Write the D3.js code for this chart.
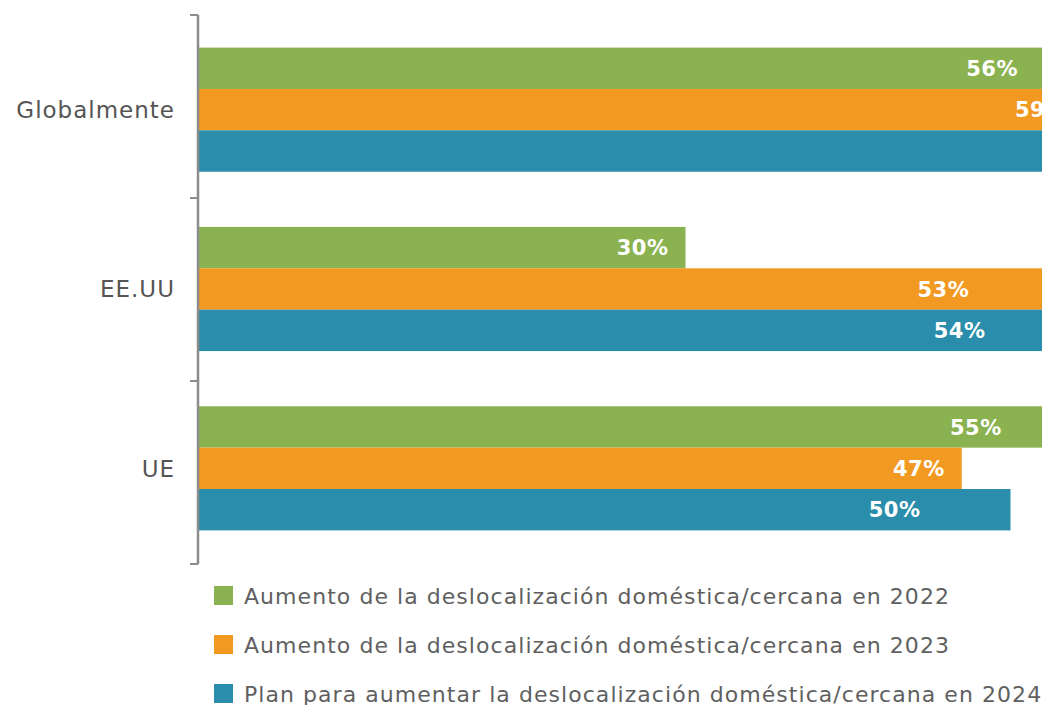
<!DOCTYPE html>
<html>
<head>
<meta charset="utf-8">
<script src="https://cdn.jsdelivr.net/npm/d3@7"></script>
<style>
  body { margin: 0; background: #fff; }
  svg { display: block; font-family: "DejaVu Sans", sans-serif; }
</style>
</head>
<body>
<div id="chart"></div>
<script>
// Data
const regions = ["Globalmente", "EE.UU", "UE"];
const seriesNames = [
  "Aumento de la deslocalización doméstica/cercana en 2022",
  "Aumento de la deslocalización doméstica/cercana en 2023",
  "Plan para aumentar la deslocalización doméstica/cercana en 2024"
];
const values2022 = [56, 30, 55];
const values2023 = [59, 53, 47];
const values2024 = [62, 54, 50];
const seriesColors = ["#8ab250", "#f29921", "#298dab"];

(function() {
  const width = 1042, height = 705;
  const axisX = 198;

  const svg = d3.select("#chart")
    .append("svg")
    .attr("width", width)
    .attr("height", height);

  const seriesValues = [values2022, values2023, values2024];
  const rows = regions.map((r, i) => ({
    region: r,
    bars: seriesNames.map((s, j) => ({ series: s, value: seriesValues[j][i], color: seriesColors[j] }))
  }));

  const x = d3.scaleLinear().domain([0, 100]).range([axisX, axisX + 1625]);
  // axis bands (ticks) and bar bands sit slightly differently in the original
  const yAxis = d3.scaleBand().domain(regions).range([15, 564]);
  const y0 = d3.scaleBand().domain(regions).range([20, 558]);
  const y1 = d3.scaleBand().domain(seriesNames).range([0, y0.bandwidth()]).paddingOuter(0.667);

  // bars
  const groups = svg.selectAll(".group")
    .data(rows)
    .enter().append("g")
    .attr("transform", d => `translate(0, ${y0(d.region)})`);

  groups.selectAll("rect")
    .data(d => d.bars)
    .enter().append("rect")
    .attr("x", x(0))
    .attr("y", d => y1(d.series))
    .attr("width", d => x(d.value) - x(0))
    .attr("height", y1.bandwidth())
    .attr("fill", d => d.color);

  // value labels: short bars get the label near the end, long ones are pulled in
  groups.selectAll(".val")
    .data(d => d.bars)
    .enter().append("text")
    .attr("x", d => x(d.value) - (d.value < 48 ? 17 : 90))
    .attr("y", d => y1(d.series) + y1.bandwidth() / 2)
    .attr("dy", "0.36em")
    .attr("text-anchor", "end")
    .attr("fill", "#fff")
    .attr("font-weight", "bold")
    .attr("font-size", 21)
    .attr("letter-spacing", 0.5)
    .text(d => d.value + "%");

  // axis line with ticks at the band edges
  const axis = svg.append("g")
    .attr("transform", `translate(${axisX}, 0)`);
  axis.append("line")
    .attr("x1", 0).attr("x2", 0)
    .attr("y1", yAxis.range()[0]).attr("y2", yAxis.range()[1])
    .attr("stroke", "#8c8c8c").attr("stroke-width", 2.5);
  const edges = regions.map(r => yAxis(r)).concat([yAxis.range()[1]]);
  axis.selectAll(".edge")
    .data(edges)
    .enter().append("line")
    .attr("x1", -8).attr("x2", 0)
    .attr("y1", d => d).attr("y2", d => d)
    .attr("stroke", "#8c8c8c").attr("stroke-width", 2);

  // category labels centred on the bar group
  svg.selectAll(".cat")
    .data(regions)
    .enter().append("text")
    .attr("x", axisX - 23)
    .attr("y", d => y0(d) + y1(seriesNames[1]) + y1.bandwidth() / 2)
    .attr("dy", "0.36em")
    .attr("text-anchor", "end")
    .attr("fill", "#555")
    .attr("font-size", 23)
    .attr("letter-spacing", 1)
    .text(d => d);

  // legend
  const legend = svg.selectAll(".legend")
    .data(seriesNames)
    .enter().append("g")
    .attr("transform", (d, i) => `translate(214, ${596 + i * 49})`);

  legend.append("rect")
    .attr("x", 0).attr("y", -10)
    .attr("width", 19).attr("height", 19)
    .attr("fill", (d, i) => seriesColors[i]);

  legend.append("text")
    .attr("x", 30)
    .attr("dy", "0.36em")
    .attr("fill", "#5f5f5f")
    .attr("font-size", 22)
    .attr("letter-spacing", 1.05)
    .text(d => d);
})();
</script>
</body>
</html>
